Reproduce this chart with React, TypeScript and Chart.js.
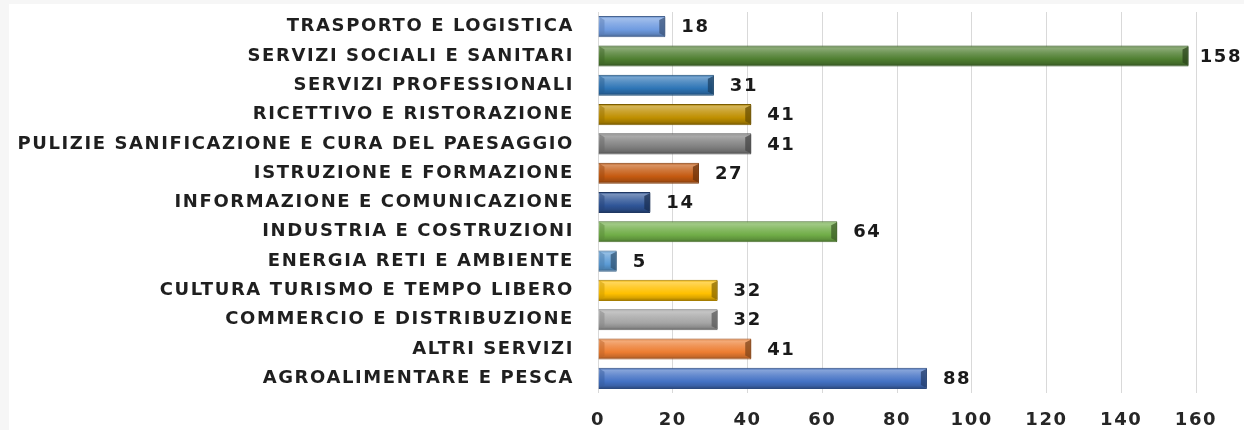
import React, { useEffect, useRef } from "react";
import { Chart, registerables } from "chart.js";

Chart.register(...registerables);

const categories = [
  "TRASPORTO E LOGISTICA",
  "SERVIZI SOCIALI E SANITARI",
  "SERVIZI PROFESSIONALI",
  "RICETTIVO E RISTORAZIONE",
  "PULIZIE SANIFICAZIONE E CURA DEL PAESAGGIO",
  "ISTRUZIONE E FORMAZIONE",
  "INFORMAZIONE E COMUNICAZIONE",
  "INDUSTRIA E COSTRUZIONI",
  "ENERGIA RETI E AMBIENTE",
  "CULTURA TURISMO E TEMPO LIBERO",
  "COMMERCIO E DISTRIBUZIONE",
  "ALTRI SERVIZI",
  "AGROALIMENTARE E PESCA",
];

const values = [18, 158, 31, 41, 41, 27, 14, 64, 5, 32, 32, 41, 88];

const barColors = [
  "#6f9be0",
  "#4f7f31",
  "#2e75b6",
  "#bf8f00",
  "#7f7f7f",
  "#c55a11",
  "#2f5597",
  "#70ad47",
  "#5b9bd5",
  "#ffc000",
  "#a5a5a5",
  "#ed7d31",
  "#4472c4",
];

const xMin = 0;
const xMax = 160;
const xStep = 20;

const FONT_FAMILY = "'DejaVu Sans', 'Liberation Sans', sans-serif";
const FONT_SIZE = 18;
const LETTER_SPACING = "1.6px";
const BAR_FRACTION = 0.72;

function shade(hex: string, amt: number): string {
  const n = parseInt(hex.slice(1), 16);
  let r = (n >> 16) & 255;
  let g = (n >> 8) & 255;
  let b = n & 255;
  if (amt >= 0) {
    r = Math.round(r + (255 - r) * amt);
    g = Math.round(g + (255 - g) * amt);
    b = Math.round(b + (255 - b) * amt);
  } else {
    r = Math.round(r * (1 + amt));
    g = Math.round(g * (1 + amt));
    b = Math.round(b * (1 + amt));
  }
  return `rgb(${r},${g},${b})`;
}

const bevelPlugin = {
  id: "bevelAndLabels",
  beforeLayout(chart: any) {
    chart.ctx.letterSpacing = LETTER_SPACING;
  },
  beforeDraw(chart: any) {
    chart.ctx.letterSpacing = LETTER_SPACING;
  },
  afterDatasetsDraw(chart: any) {
    const ctx = chart.ctx;
    const meta = chart.getDatasetMeta(0);
    ctx.save();
    ctx.letterSpacing = LETTER_SPACING;
    meta.data.forEach((bar: any, i: number) => {
      const col = barColors[i];
      const top = bar.y - bar.height / 2;
      const bottom = bar.y + bar.height / 2;
      const end = bar.x;
      const start = bar.base;
      const w = Math.min(6, (end - start) / 2);
      ctx.fillStyle = shade(col, -0.45);
      ctx.globalAlpha = 0.75;
      ctx.beginPath();
      ctx.moveTo(end - w, top + 4);
      ctx.lineTo(end, top + 1);
      ctx.lineTo(end, bottom - 1);
      ctx.lineTo(end - w, bottom - 4);
      ctx.closePath();
      ctx.fill();
      ctx.fillStyle = shade(col, -0.2);
      ctx.globalAlpha = 0.5;
      ctx.beginPath();
      ctx.moveTo(start + 1, top + 1);
      ctx.lineTo(start + w, top + 4);
      ctx.lineTo(start + w, bottom - 4);
      ctx.lineTo(start + 1, bottom - 1);
      ctx.closePath();
      ctx.fill();
      ctx.globalAlpha = 1;

      const txt = String(values[i]);
      ctx.font = `bold ${FONT_SIZE}px ${FONT_FAMILY}`;
      ctx.fillStyle = "#1a1a1a";
      ctx.textBaseline = "middle";
      ctx.textAlign = "left";
      const tw = ctx.measureText(txt).width;
      let x = end + 16;
      if (x + tw > chart.width - 2) x = chart.width - tw - 2;
      ctx.fillText(txt, x, bar.y + 1);
    });
    ctx.restore();
  },
};

export default function App() {
  const canvasRef = useRef<HTMLCanvasElement | null>(null);

  useEffect(() => {
    if (!canvasRef.current) return;
    const chart = new Chart(canvasRef.current, {
      type: "bar",
      data: {
        labels: categories,
        datasets: [
          {
            data: values,
            backgroundColor: (c: any) => {
              const idx = c.dataIndex;
              if (idx == null || c.type !== "data") return barColors[0];
              const col = barColors[idx];
              const ys = c.chart.scales && c.chart.scales.y;
              if (!ys) return col;
              const center = ys.getPixelForValue(idx);
              const half = ((ys.bottom - ys.top) / categories.length) * BAR_FRACTION / 2;
              if (!isFinite(center) || !isFinite(half) || half <= 0) return col;
              const g = c.chart.ctx.createLinearGradient(0, center - half, 0, center + half);
              g.addColorStop(0, shade(col, -0.1));
              g.addColorStop(0.12, shade(col, 0.35));
              g.addColorStop(0.35, shade(col, 0.18));
              g.addColorStop(0.65, col);
              g.addColorStop(0.85, shade(col, -0.15));
              g.addColorStop(1, shade(col, -0.4));
              return g;
            },
            borderColor: (c: any) => shade(barColors[c.dataIndex ?? 0], -0.35),
            borderWidth: 1,
            barPercentage: BAR_FRACTION,
            categoryPercentage: 1,
          },
        ],
      },
      options: {
        indexAxis: "y",
        responsive: true,
        maintainAspectRatio: false,
        animation: false,
        layout: { padding: { left: 8, right: 48, top: 8, bottom: 0 } },
        plugins: {
          legend: { display: false },
          tooltip: { enabled: false },
        },
        scales: {
          x: {
            min: xMin,
            max: xMax,
            ticks: {
              stepSize: xStep,
              padding: 17,
              color: "#262626",
              maxRotation: 0,
              font: { family: FONT_FAMILY, size: FONT_SIZE, weight: "bold" },
            },
            grid: { color: "#d9d9d9", lineWidth: 1, drawTicks: false },
            border: { display: false },
            afterFit: (s: any) => {
              s.paddingLeft = 0;
              s.paddingRight = 0;
              s.height = 37;
            },
          },
          y: {
            ticks: {
              autoSkip: false,
              padding: 24,
              color: "#1f1f1f",
              font: { family: FONT_FAMILY, size: FONT_SIZE, weight: "bold" },
            },
            grid: { display: false, drawTicks: false },
            border: { display: false },
            afterFit: (s: any) => {
              s.width = 581;
              s.paddingTop = 0;
              s.paddingBottom = 0;
            },
          },
        },
      },
      plugins: [bevelPlugin],
    } as any);
    return () => chart.destroy();
  }, []);

  return (
    <div
      style={{
        position: "absolute",
        left: 0,
        top: 0,
        width: 1244,
        height: 430,
        background: "#f6f6f6",
      }}
    >
      <div
        style={{
          position: "absolute",
          left: 9,
          top: 4,
          width: 1235,
          height: 426,
          background: "#ffffff",
        }}
      >
        <canvas ref={canvasRef} />
      </div>
    </div>
  );
}
